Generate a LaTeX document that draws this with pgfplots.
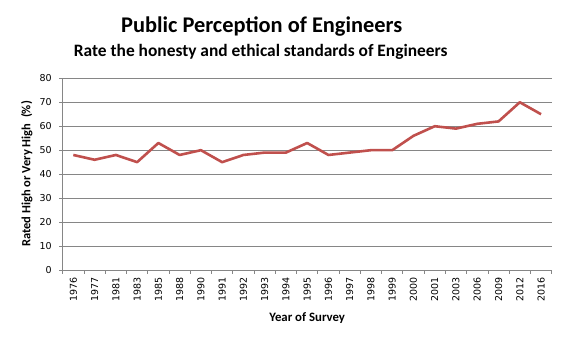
\documentclass[border=0pt]{standalone}
\usepackage{pgfplots}
\pgfplotsset{compat=1.18}
\usepackage{fontspec}
\setmainfont{Carlito}
\newfontfamily\tickfont{DejaVu Sans}
\definecolor{linered}{HTML}{C0504D}
\definecolor{gridgray}{HTML}{868686}
\begin{document}
\begin{tikzpicture}
\useasboundingbox (-62.7pt,-72pt) rectangle (503.3pt,270pt);
\begin{axis}[
  scale only axis,
  width=489pt, height=191.7pt,
  at={(0pt,0pt)}, anchor=south west,
  xmin=-0.5, xmax=22.5,
  ymin=0, ymax=80,
  ytick={0,10,...,80},
  xtick={0,...,22},
  xticklabels={1976,1977,1981,1983,1985,1988,1990,1991,1992,1993,1994,1995,1996,1997,1998,1999,2000,2001,2003,2006,2009,2012,2016},
  minor xtick={-0.5,0.5,...,22.5},
  axis x line*=bottom, axis y line*=left,
  axis line style={gridgray, line width=0.8pt, -},
  ymajorgrids, major grid style={gridgray, line width=0.8pt},
  tick align=outside,
  major x tick style={draw=none},
  minor x tick style={gridgray, line width=0.8pt},
  major y tick style={gridgray, line width=0.8pt},
  major tick length=3.5pt, minor tick length=4pt,
  ticklabel style={font=\tickfont\fontsize{9.5}{10}\selectfont, text=black},
  /pgf/number format/assume math mode=true,
  xticklabel style={rotate=90, anchor=east, xshift=0pt, yshift=0pt},
  yticklabel style={xshift=-4pt},
  xtick pos=bottom, ytick pos=left,
  clip=false,
]
\addplot[color=linered, line width=2.6pt, line join=round] coordinates {
(0,48) (1,46) (2,48) (3,45) (4,53) (5,48) (6,50) (7,45) (8,48) (9,49) (10,49) (11,53)
(12,48) (13,49) (14,50) (15,50) (16,56) (17,60) (18,59) (19,61) (20,62) (21,70) (22,65)
};
\end{axis}
\node[anchor=base, font=\bfseries\fontsize{22.4}{26}\selectfont] at (199pt,237pt) {Public Perception of Engineers};
\node[anchor=base, font=\bfseries\fontsize{17.4}{20}\selectfont] at (198pt,213pt) {Rate the honesty and ethical standards of Engineers};
\node[rotate=90, font=\bfseries\fontsize{12.5}{14}\selectfont] at (-36pt,96pt) {Rated High or Very High\ \ (\%)};
\node[font=\bfseries\fontsize{12.8}{15}\selectfont] at (244.5pt,-48pt) {Year of Survey};
\end{tikzpicture}
\end{document}
